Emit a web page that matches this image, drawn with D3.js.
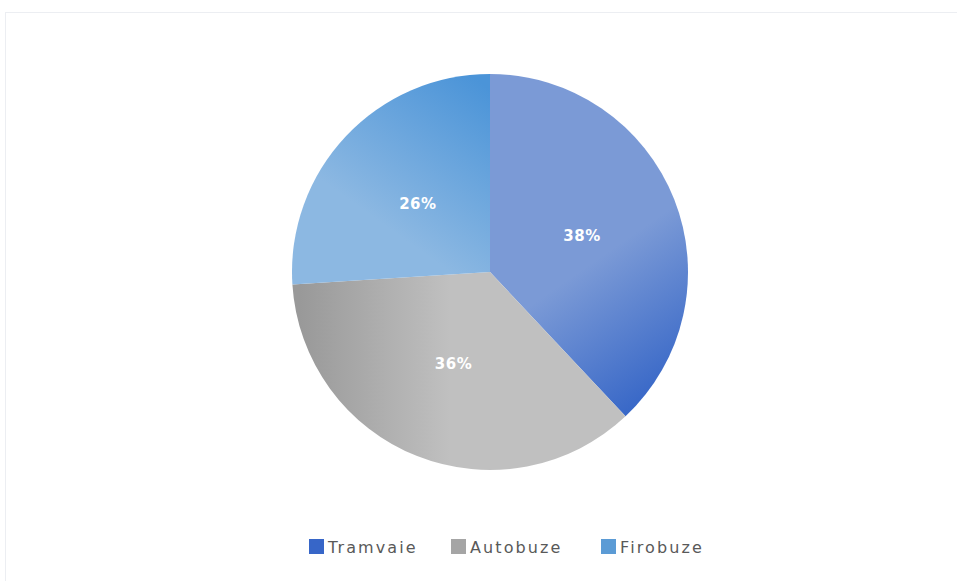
<!DOCTYPE html>
<html><head><meta charset="utf-8">
<script src="https://cdn.jsdelivr.net/npm/d3@7"></script>
<style>body{margin:0;background:#fff}svg{display:block}</style>
</head><body>
<svg id="c" width="957" height="581"></svg>
<script>
const categories = ["Tramvaie", "Autobuze", "Firobuze"];
const values = [38, 36, 26];
const labels = ["38%", "36%", "26%"];

const svg = d3.select("#c");
const cx = 490, cy = 272, r = 198;

svg.append("rect").attr("x", 5.5).attr("y", 12.5).attr("width", 980).attr("height", 600)
  .attr("fill", "#fff").attr("stroke", "#eceef2");

const defs = svg.append("defs");
const grads = [
  {id: "g0", x1: 60, y1: 20, x2: 150, y2: 150, stops: [["0%", "#7b9ad6"], ["100%", "#3263c6"]]},
  {id: "g1", x1: -190, y1: 0, x2: -40, y2: 0, stops: [["0%", "#999999"], ["100%", "#c0c0c0"]]},
  {id: "g2", x1: -10, y1: -190, x2: -110, y2: -50, stops: [["0%", "#4b94d8"], ["100%", "#8cb8e2"]]}
];
grads.forEach(g => {
  const lg = defs.append("linearGradient").attr("id", g.id).attr("gradientUnits", "userSpaceOnUse")
    .attr("x1", g.x1).attr("y1", g.y1).attr("x2", g.x2).attr("y2", g.y2);
  g.stops.forEach(s => lg.append("stop").attr("offset", s[0]).attr("stop-color", s[1]));
});

const pie = d3.pie().sort(null).value(d => d)(values);
const arc = d3.arc().innerRadius(0).outerRadius(r);
const g = svg.append("g").attr("transform", `translate(${cx},${cy})`);
g.selectAll("path").data(pie).join("path")
  .attr("d", arc).attr("fill", (d, i) => `url(#g${i})`);
g.selectAll("text").data(pie).join("text")
  .attr("transform", d => `translate(${arc.centroid(d)})`)
  .attr("text-anchor", "middle").attr("dy", "0.35em")
  .attr("fill", "#fff").attr("font-family", "'DejaVu Sans', sans-serif").attr("font-weight", "bold")
  .attr("font-size", 15).attr("letter-spacing", 0.5)
  .text((d, i) => labels[i]);

const legendColors = ["#3766c8", "#a5a5a5", "#5b9bd5"];
const legX = [309, 451, 601];
const lg = svg.append("g");
categories.forEach((c, i) => {
  lg.append("rect").attr("x", legX[i]).attr("y", 539).attr("width", 15).attr("height", 15).attr("fill", legendColors[i]);
  lg.append("text").attr("x", legX[i] + 19).attr("y", 553)
    .attr("font-family", "'DejaVu Sans', sans-serif").attr("font-size", 16).attr("letter-spacing", 2.1)
    .attr("fill", "#595959").text(c);
});
</script>
</body></html>
